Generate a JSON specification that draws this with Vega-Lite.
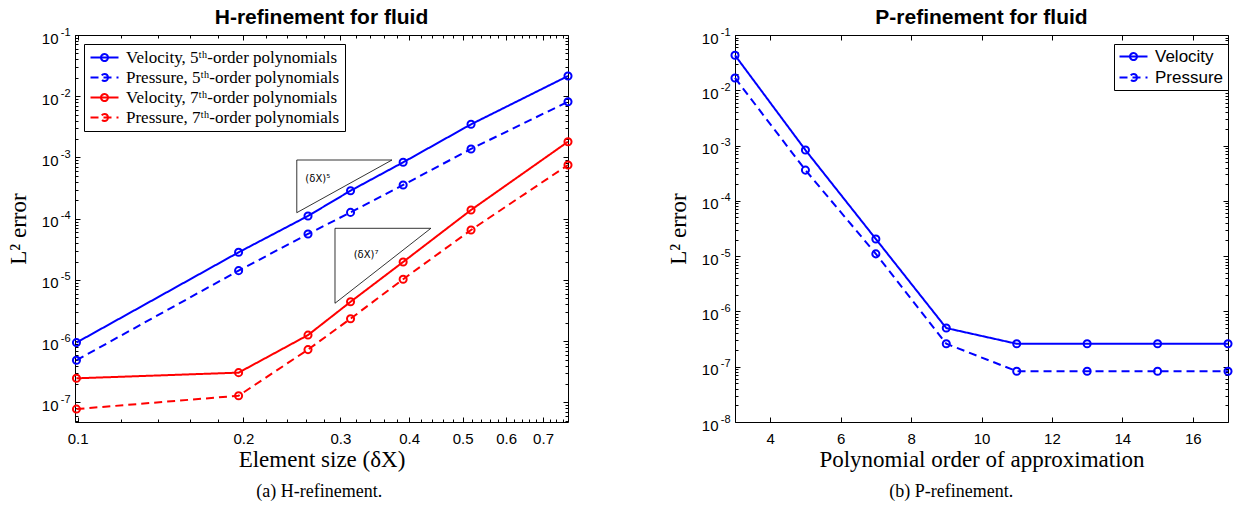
{
  "$schema": "https://vega.github.io/schema/vega-lite/v6.json",
  "padding": {"left": 6, "top": 6, "right": 5, "bottom": 5},
  "config": {
    "view": {"stroke": "black", "strokeWidth": 1},
    "axis": {"domain": false, "grid": false, "tickColor": "black", "tickWidth": 1, "labelColor": "black", "titleColor": "black", "labelFont": "Liberation Sans", "labelFontSize": 15, "labelFlush": false, "labelOverlap": false},
    "legend": {"title": null, "strokeColor": "black", "fillColor": "white", "cornerRadius": 0, "labelColor": "black", "labelLimit": 400, "symbolType": "M-2,0H2M0.5,0A0.5,0.5,0,1,1,-0.5,0A0.5,0.5,0,1,1,0.5,0", "symbolSize": 196, "symbolOffset": 7, "symbolStrokeWidth": 2, "symbolOpacity": 1}
  },
  "datasets": {
    "h": [
      {"size": 0.0995, "err": 9.5e-7, "series": "Velocity, 5ᵗʰ-order polynomials"},
      {"size": 0.196, "err": 2.83e-5, "series": "Velocity, 5ᵗʰ-order polynomials"},
      {"size": 0.262, "err": 1.11e-4, "series": "Velocity, 5ᵗʰ-order polynomials"},
      {"size": 0.313, "err": 2.87e-4, "series": "Velocity, 5ᵗʰ-order polynomials"},
      {"size": 0.39, "err": 8.34e-4, "series": "Velocity, 5ᵗʰ-order polynomials"},
      {"size": 0.518, "err": 3.48e-3, "series": "Velocity, 5ᵗʰ-order polynomials"},
      {"size": 0.777, "err": 2.14e-2, "series": "Velocity, 5ᵗʰ-order polynomials"},
      {"size": 0.0995, "err": 4.9e-7, "series": "Pressure, 5ᵗʰ-order polynomials"},
      {"size": 0.196, "err": 1.42e-5, "series": "Pressure, 5ᵗʰ-order polynomials"},
      {"size": 0.262, "err": 5.64e-5, "series": "Pressure, 5ᵗʰ-order polynomials"},
      {"size": 0.313, "err": 1.27e-4, "series": "Pressure, 5ᵗʰ-order polynomials"},
      {"size": 0.39, "err": 3.56e-4, "series": "Pressure, 5ᵗʰ-order polynomials"},
      {"size": 0.518, "err": 1.38e-3, "series": "Pressure, 5ᵗʰ-order polynomials"},
      {"size": 0.777, "err": 8.15e-3, "series": "Pressure, 5ᵗʰ-order polynomials"},
      {"size": 0.0995, "err": 2.48e-7, "series": "Velocity, 7ᵗʰ-order polynomials"},
      {"size": 0.196, "err": 3.07e-7, "series": "Velocity, 7ᵗʰ-order polynomials"},
      {"size": 0.262, "err": 1.26e-6, "series": "Velocity, 7ᵗʰ-order polynomials"},
      {"size": 0.313, "err": 4.4e-6, "series": "Velocity, 7ᵗʰ-order polynomials"},
      {"size": 0.39, "err": 1.97e-5, "series": "Velocity, 7ᵗʰ-order polynomials"},
      {"size": 0.518, "err": 1.39e-4, "series": "Velocity, 7ᵗʰ-order polynomials"},
      {"size": 0.777, "err": 1.81e-3, "series": "Velocity, 7ᵗʰ-order polynomials"},
      {"size": 0.0995, "err": 7.8e-8, "series": "Pressure, 7ᵗʰ-order polynomials"},
      {"size": 0.196, "err": 1.29e-7, "series": "Pressure, 7ᵗʰ-order polynomials"},
      {"size": 0.262, "err": 7.3e-7, "series": "Pressure, 7ᵗʰ-order polynomials"},
      {"size": 0.313, "err": 2.33e-6, "series": "Pressure, 7ᵗʰ-order polynomials"},
      {"size": 0.39, "err": 1.03e-5, "series": "Pressure, 7ᵗʰ-order polynomials"},
      {"size": 0.518, "err": 6.55e-5, "series": "Pressure, 7ᵗʰ-order polynomials"},
      {"size": 0.777, "err": 7.55e-4, "series": "Pressure, 7ᵗʰ-order polynomials"}
    ],
    "tri": [
      {"tri": "5", "k": 0, "size": 0.25, "err": 9.1e-4},
      {"tri": "5", "k": 1, "size": 0.3722, "err": 9.1e-4},
      {"tri": "5", "k": 2, "size": 0.25, "err": 1.256e-4},
      {"tri": "5", "k": 3, "size": 0.25, "err": 9.1e-4},
      {"tri": "7", "k": 0, "size": 0.2933, "err": 6.98e-5},
      {"tri": "7", "k": 1, "size": 0.438, "err": 6.98e-5},
      {"tri": "7", "k": 2, "size": 0.2933, "err": 4.17e-6},
      {"tri": "7", "k": 3, "size": 0.2933, "err": 6.98e-5}
    ],
    "lbl": [
      {"size": 0.2729, "err": 4.4e-4, "t": "(δX)⁵"},
      {"size": 0.334, "err": 2.56e-5, "t": "(δX)⁷"}
    ],
    "p": [
      {"order": 3, "err": 4.3e-2, "var": "Velocity"},
      {"order": 5, "err": 8.3e-4, "var": "Velocity"},
      {"order": 7, "err": 2.04e-5, "var": "Velocity"},
      {"order": 9, "err": 5.0e-7, "var": "Velocity"},
      {"order": 11, "err": 2.6e-7, "var": "Velocity"},
      {"order": 13, "err": 2.6e-7, "var": "Velocity"},
      {"order": 15, "err": 2.6e-7, "var": "Velocity"},
      {"order": 17, "err": 2.6e-7, "var": "Velocity"},
      {"order": 3, "err": 1.67e-2, "var": "Pressure"},
      {"order": 5, "err": 3.6e-4, "var": "Pressure"},
      {"order": 7, "err": 1.1e-5, "var": "Pressure"},
      {"order": 9, "err": 2.6e-7, "var": "Pressure"},
      {"order": 11, "err": 8.3e-8, "var": "Pressure"},
      {"order": 13, "err": 8.3e-8, "var": "Pressure"},
      {"order": 15, "err": 8.3e-8, "var": "Pressure"},
      {"order": 17, "err": 8.3e-8, "var": "Pressure"}
    ]
  },
  "spacing": 89,
  "hconcat": [
    {
      "title": {"text": "(a) H-refinement.", "orient": "bottom", "font": "Liberation Serif", "fontSize": 18, "fontWeight": "normal", "color": "black", "offset": 11, "anchor": "middle", "dx": 28},
      "resolve": {"scale": {"color": "independent", "strokeDash": "independent"}},
      "vconcat": [
        {
          "width": 493,
          "height": 387,
          "title": {"text": "H-refinement for fluid", "font": "Liberation Sans", "fontSize": 21, "fontWeight": "bold", "color": "black", "offset": -2, "anchor": "middle", "frame": "group"},
          "resolve": {"axis": {"x": "independent", "y": "independent"}},
          "layer": [
            {
              "data": {"name": "h"},
              "transform": [{"filter": "indexof(datum.series, '5ᵗʰ') >= 0"}],
              "mark": {"type": "line", "strokeWidth": 2},
              "encoding": {
                "x": {"field": "size", "type": "quantitative", "scale": {"type": "log", "domain": [0.0989, 0.777], "nice": false},
                  "axis": {"orient": "bottom", "values": [0.1, 0.2, 0.3, 0.4, 0.5, 0.6, 0.7], "format": ".1f", "tickSize": -5, "labelPadding": 14, "title": "Element size (δX)", "titleFont": "Liberation Serif", "titleFontSize": 23, "titleFontWeight": "normal", "titlePadding": 2}},
                "y": {"field": "err", "type": "quantitative", "scale": {"type": "log", "domain": [4.8e-8, 0.1], "nice": false},
                  "axis": {"orient": "left", "values": [5e-8, 6e-8, 7e-8, 8e-8, 9e-8, 1e-7, 2e-7, 3e-7, 4e-7, 5e-7, 6e-7, 7e-7, 8e-7, 9e-7, 1e-6, 2e-6, 3e-6, 4e-6, 5e-6, 6e-6, 7e-6, 8e-6, 9e-6, 1e-5, 2e-5, 3e-5, 4e-5, 5e-5, 6e-5, 7e-5, 8e-5, 9e-5, 1e-4, 2e-4, 3e-4, 4e-4, 5e-4, 6e-4, 7e-4, 8e-4, 9e-4, 1e-3, 2e-3, 3e-3, 4e-3, 5e-3, 6e-3, 7e-3, 8e-3, 9e-3, 1e-2, 2e-2, 3e-2, 4e-2, 5e-2, 6e-2, 7e-2, 8e-2, 9e-2, 1e-1], "labelExpr": "abs(log(datum.value)/LN10 - round(log(datum.value)/LN10)) < 1e-6 ? '10' : ''", "tickSize": -3, "labelPadding": 20, "labelOffset": 3, "title": "L² error", "titleFont": "Liberation Serif", "titleFontSize": 23, "titleFontWeight": "normal", "minExtent": 36, "maxExtent": 36, "titlePadding": 9}},
                "color": {"field": "series", "type": "nominal",
                  "scale": {"domain": ["Velocity, 5ᵗʰ-order polynomials", "Pressure, 5ᵗʰ-order polynomials", "Velocity, 7ᵗʰ-order polynomials", "Pressure, 7ᵗʰ-order polynomials"], "range": ["#0000ff", "#0000ff", "#ff0000", "#ff0000"]},
                  "legend": {"orient": "top-left", "offset": 9, "padding": 5, "labelFont": "Liberation Serif", "labelFontSize": 17, "labelOffset": 13, "rowPadding": 2, "encode": {"symbols": {"update": {"fill": {"value": "transparent"}}}}}},
                "strokeDash": {"field": "series", "type": "nominal",
                  "scale": {"domain": ["Velocity, 5ᵗʰ-order polynomials", "Pressure, 5ᵗʰ-order polynomials", "Velocity, 7ᵗʰ-order polynomials", "Pressure, 7ᵗʰ-order polynomials"], "range": [[1, 0], [8, 5], [1, 0], [8, 5]]},
                  "legend": {"orient": "top-left", "offset": 9, "padding": 5, "labelFont": "Liberation Serif", "labelFontSize": 17, "labelOffset": 13, "rowPadding": 2, "encode": {"symbols": {"update": {"fill": {"value": "transparent"}}}}}}
              }
            },
            {
              "data": {"name": "h"},
              "transform": [{"filter": "indexof(datum.series, '7ᵗʰ') >= 0"}],
              "mark": {"type": "line", "strokeWidth": 2},
              "encoding": {
                "x": {"field": "size", "type": "quantitative", "scale": {"type": "log", "domain": [0.0989, 0.777], "nice": false},
                  "axis": {"orient": "bottom", "values": [0.12, 0.14, 0.16, 0.18, 0.22, 0.24, 0.26, 0.28, 0.32, 0.34, 0.36, 0.38, 0.42, 0.44, 0.46, 0.48, 0.52, 0.54, 0.56, 0.58, 0.62, 0.64, 0.66, 0.68, 0.72, 0.74, 0.76], "labels": false, "tickSize": -3, "title": null, "minExtent": 0, "maxExtent": 0}},
                "y": {"field": "err", "type": "quantitative", "scale": {"type": "log", "domain": [4.8e-8, 0.1], "nice": false},
                  "axis": {"orient": "left", "values": [1e-7, 1e-6, 1e-5, 1e-4, 1e-3, 1e-2, 1e-1], "labelExpr": "'-' + round(-log(datum.value)/LN10)", "labelFontSize": 11, "tickSize": -5, "labelPadding": 10, "labelOffset": -3, "title": null, "minExtent": 0, "maxExtent": 20}},
                "color": {"field": "series", "type": "nominal",
                  "scale": {"domain": ["Velocity, 5ᵗʰ-order polynomials", "Pressure, 5ᵗʰ-order polynomials", "Velocity, 7ᵗʰ-order polynomials", "Pressure, 7ᵗʰ-order polynomials"], "range": ["#0000ff", "#0000ff", "#ff0000", "#ff0000"]},
                  "legend": {"orient": "top-left", "offset": 9, "padding": 5, "labelFont": "Liberation Serif", "labelFontSize": 17, "labelOffset": 13, "rowPadding": 2, "encode": {"symbols": {"update": {"fill": {"value": "transparent"}}}}}},
                "strokeDash": {"field": "series", "type": "nominal",
                  "scale": {"domain": ["Velocity, 5ᵗʰ-order polynomials", "Pressure, 5ᵗʰ-order polynomials", "Velocity, 7ᵗʰ-order polynomials", "Pressure, 7ᵗʰ-order polynomials"], "range": [[1, 0], [8, 5], [1, 0], [8, 5]]},
                  "legend": {"orient": "top-left", "offset": 9, "padding": 5, "labelFont": "Liberation Serif", "labelFontSize": 17, "labelOffset": 13, "rowPadding": 2, "encode": {"symbols": {"update": {"fill": {"value": "transparent"}}}}}}
              }
            },
            {
              "data": {"name": "h"},
              "mark": {"type": "point", "shape": "circle", "filled": false, "size": 50, "strokeWidth": 2, "opacity": 1},
              "encoding": {
                "x": {"field": "size", "type": "quantitative", "scale": {"type": "log", "domain": [0.0989, 0.777], "nice": false},
                  "axis": {"orient": "top", "values": [0.1, 0.2, 0.3, 0.4, 0.5, 0.6, 0.7], "labels": false, "tickSize": -5, "title": null, "minExtent": 0, "maxExtent": 0}},
                "y": {"field": "err", "type": "quantitative", "scale": {"type": "log", "domain": [4.8e-8, 0.1], "nice": false},
                  "axis": {"orient": "right", "values": [5e-8, 6e-8, 7e-8, 8e-8, 9e-8, 2e-7, 3e-7, 4e-7, 5e-7, 6e-7, 7e-7, 8e-7, 9e-7, 2e-6, 3e-6, 4e-6, 5e-6, 6e-6, 7e-6, 8e-6, 9e-6, 2e-5, 3e-5, 4e-5, 5e-5, 6e-5, 7e-5, 8e-5, 9e-5, 2e-4, 3e-4, 4e-4, 5e-4, 6e-4, 7e-4, 8e-4, 9e-4, 2e-3, 3e-3, 4e-3, 5e-3, 6e-3, 7e-3, 8e-3, 9e-3, 2e-2, 3e-2, 4e-2, 5e-2, 6e-2, 7e-2, 8e-2, 9e-2], "labels": false, "tickSize": -3, "title": null, "minExtent": 0, "maxExtent": 0}},
                "color": {"field": "series", "type": "nominal",
                  "scale": {"domain": ["Velocity, 5ᵗʰ-order polynomials", "Pressure, 5ᵗʰ-order polynomials", "Velocity, 7ᵗʰ-order polynomials", "Pressure, 7ᵗʰ-order polynomials"], "range": ["#0000ff", "#0000ff", "#ff0000", "#ff0000"]},
                  "legend": {"orient": "top-left", "offset": 9, "padding": 5, "labelFont": "Liberation Serif", "labelFontSize": 17, "labelOffset": 13, "rowPadding": 2, "encode": {"symbols": {"update": {"fill": {"value": "transparent"}}}}}}
              }
            },
            {
              "data": {"name": "tri"},
              "mark": {"type": "line", "color": "black", "strokeWidth": 0.8},
              "encoding": {
                "x": {"field": "size", "type": "quantitative", "scale": {"type": "log", "domain": [0.0989, 0.777], "nice": false},
                  "axis": {"orient": "top", "values": [0.12, 0.14, 0.16, 0.18, 0.22, 0.24, 0.26, 0.28, 0.32, 0.34, 0.36, 0.38, 0.42, 0.44, 0.46, 0.48, 0.52, 0.54, 0.56, 0.58, 0.62, 0.64, 0.66, 0.68, 0.72, 0.74, 0.76], "labels": false, "tickSize": -3, "title": null, "minExtent": 0, "maxExtent": 0}},
                "y": {"field": "err", "type": "quantitative", "scale": {"type": "log", "domain": [4.8e-8, 0.1], "nice": false},
                  "axis": {"orient": "right", "values": [1e-7, 1e-6, 1e-5, 1e-4, 1e-3, 1e-2, 1e-1], "labels": false, "tickSize": -5, "title": null, "minExtent": 0, "maxExtent": 0}},
                "detail": {"field": "tri", "type": "nominal"},
                "order": {"field": "k", "type": "quantitative"}
              }
            },
            {
              "data": {"name": "lbl"},
              "mark": {"type": "text", "font": "DejaVu Sans", "fontSize": 10, "color": "black"},
              "encoding": {
                "x": {"field": "size", "type": "quantitative", "scale": {"type": "log", "domain": [0.0989, 0.777], "nice": false}, "axis": null},
                "y": {"field": "err", "type": "quantitative", "scale": {"type": "log", "domain": [4.8e-8, 0.1], "nice": false}, "axis": null},
                "text": {"field": "t", "type": "nominal"}
              }
            }
          ]
        }
      ]
    },
    {
      "title": {"text": "(b) P-refinement.", "orient": "bottom", "font": "Liberation Serif", "fontSize": 18, "fontWeight": "normal", "color": "black", "offset": 11, "anchor": "middle"},
      "resolve": {"scale": {"color": "independent", "strokeDash": "independent"}},
      "vconcat": [
        {
          "width": 493,
          "height": 387,
          "title": {"text": "P-refinement for fluid", "font": "Liberation Sans", "fontSize": 21, "fontWeight": "bold", "color": "black", "offset": -2, "anchor": "middle", "frame": "group"},
          "resolve": {"axis": {"x": "independent", "y": "independent"}},
          "layer": [
            {
              "data": {"name": "p"},
              "transform": [{"filter": "datum.var == 'Velocity'"}],
              "mark": {"type": "line", "strokeWidth": 2},
              "encoding": {
                "x": {"field": "order", "type": "quantitative", "scale": {"domain": [3, 17], "nice": false, "zero": false},
                  "axis": {"orient": "bottom", "values": [4, 6, 8, 10, 12, 14, 16], "tickSize": -5, "labelPadding": 14, "title": "Polynomial order of approximation", "titleFont": "Liberation Serif", "titleFontSize": 23, "titleFontWeight": "normal", "titlePadding": 2}},
                "y": {"field": "err", "type": "quantitative", "scale": {"type": "log", "domain": [1e-8, 0.1], "nice": false},
                  "axis": {"orient": "left", "values": [1e-8, 2e-8, 3e-8, 4e-8, 5e-8, 6e-8, 7e-8, 8e-8, 9e-8, 1e-7, 2e-7, 3e-7, 4e-7, 5e-7, 6e-7, 7e-7, 8e-7, 9e-7, 1e-6, 2e-6, 3e-6, 4e-6, 5e-6, 6e-6, 7e-6, 8e-6, 9e-6, 1e-5, 2e-5, 3e-5, 4e-5, 5e-5, 6e-5, 7e-5, 8e-5, 9e-5, 1e-4, 2e-4, 3e-4, 4e-4, 5e-4, 6e-4, 7e-4, 8e-4, 9e-4, 1e-3, 2e-3, 3e-3, 4e-3, 5e-3, 6e-3, 7e-3, 8e-3, 9e-3, 1e-2, 2e-2, 3e-2, 4e-2, 5e-2, 6e-2, 7e-2, 8e-2, 9e-2, 1e-1], "labelExpr": "abs(log(datum.value)/LN10 - round(log(datum.value)/LN10)) < 1e-6 ? '10' : ''", "tickSize": -3, "labelPadding": 20, "labelOffset": 3, "title": "L² error", "titleFont": "Liberation Serif", "titleFontSize": 23, "titleFontWeight": "normal", "minExtent": 36, "maxExtent": 36, "titlePadding": 9}},
                "color": {"field": "var", "type": "nominal", "scale": {"domain": ["Velocity", "Pressure"], "range": ["#0000ff", "#0000ff"]},
                  "legend": {"orient": "none", "legendX": 379, "legendY": 9, "padding": 4, "labelFont": "Liberation Sans", "labelFontSize": 17, "labelOffset": 13, "rowPadding": 3, "encode": {"symbols": {"update": {"fill": {"value": "transparent"}}}}}},
                "strokeDash": {"field": "var", "type": "nominal", "scale": {"domain": ["Velocity", "Pressure"], "range": [[1, 0], [8, 5]]},
                  "legend": {"orient": "none", "legendX": 379, "legendY": 9, "padding": 4, "labelFont": "Liberation Sans", "labelFontSize": 17, "labelOffset": 13, "rowPadding": 3, "encode": {"symbols": {"update": {"fill": {"value": "transparent"}}}}}}
              }
            },
            {
              "data": {"name": "p"},
              "transform": [{"filter": "datum.var == 'Pressure'"}],
              "mark": {"type": "line", "strokeWidth": 2},
              "encoding": {
                "x": {"field": "order", "type": "quantitative", "scale": {"domain": [3, 17], "nice": false, "zero": false},
                  "axis": {"orient": "top", "values": [4, 6, 8, 10, 12, 14, 16], "labels": false, "tickSize": -5, "title": null, "minExtent": 0, "maxExtent": 0}},
                "y": {"field": "err", "type": "quantitative", "scale": {"type": "log", "domain": [1e-8, 0.1], "nice": false},
                  "axis": {"orient": "left", "values": [1e-8, 1e-7, 1e-6, 1e-5, 1e-4, 1e-3, 1e-2, 1e-1], "labelExpr": "'-' + round(-log(datum.value)/LN10)", "labelFontSize": 11, "tickSize": -5, "labelPadding": 10, "labelOffset": -3, "title": null, "minExtent": 0, "maxExtent": 20}},
                "color": {"field": "var", "type": "nominal", "scale": {"domain": ["Velocity", "Pressure"], "range": ["#0000ff", "#0000ff"]},
                  "legend": {"orient": "none", "legendX": 379, "legendY": 9, "padding": 4, "labelFont": "Liberation Sans", "labelFontSize": 17, "labelOffset": 13, "rowPadding": 3, "encode": {"symbols": {"update": {"fill": {"value": "transparent"}}}}}},
                "strokeDash": {"field": "var", "type": "nominal", "scale": {"domain": ["Velocity", "Pressure"], "range": [[1, 0], [8, 5]]},
                  "legend": {"orient": "none", "legendX": 379, "legendY": 9, "padding": 4, "labelFont": "Liberation Sans", "labelFontSize": 17, "labelOffset": 13, "rowPadding": 3, "encode": {"symbols": {"update": {"fill": {"value": "transparent"}}}}}}
              }
            },
            {
              "data": {"name": "p"},
              "transform": [{"filter": "datum.var == 'Velocity'"}],
              "mark": {"type": "point", "shape": "circle", "filled": false, "size": 50, "strokeWidth": 2, "opacity": 1},
              "encoding": {
                "x": {"field": "order", "type": "quantitative", "scale": {"domain": [3, 17], "nice": false, "zero": false}, "axis": null},
                "y": {"field": "err", "type": "quantitative", "scale": {"type": "log", "domain": [1e-8, 0.1], "nice": false},
                  "axis": {"orient": "right", "values": [2e-8, 3e-8, 4e-8, 5e-8, 6e-8, 7e-8, 8e-8, 9e-8, 2e-7, 3e-7, 4e-7, 5e-7, 6e-7, 7e-7, 8e-7, 9e-7, 2e-6, 3e-6, 4e-6, 5e-6, 6e-6, 7e-6, 8e-6, 9e-6, 2e-5, 3e-5, 4e-5, 5e-5, 6e-5, 7e-5, 8e-5, 9e-5, 2e-4, 3e-4, 4e-4, 5e-4, 6e-4, 7e-4, 8e-4, 9e-4, 2e-3, 3e-3, 4e-3, 5e-3, 6e-3, 7e-3, 8e-3, 9e-3, 2e-2, 3e-2, 4e-2, 5e-2, 6e-2, 7e-2, 8e-2, 9e-2], "labels": false, "tickSize": -3, "title": null, "minExtent": 0, "maxExtent": 0}},
                "color": {"field": "var", "type": "nominal", "scale": {"domain": ["Velocity", "Pressure"], "range": ["#0000ff", "#0000ff"]},
                  "legend": {"orient": "none", "legendX": 379, "legendY": 9, "padding": 4, "labelFont": "Liberation Sans", "labelFontSize": 17, "labelOffset": 13, "rowPadding": 3, "encode": {"symbols": {"update": {"fill": {"value": "transparent"}}}}}}
              }
            },
            {
              "data": {"name": "p"},
              "transform": [{"filter": "datum.var == 'Pressure'"}],
              "mark": {"type": "point", "shape": "circle", "filled": false, "size": 50, "strokeWidth": 2, "opacity": 1},
              "encoding": {
                "x": {"field": "order", "type": "quantitative", "scale": {"domain": [3, 17], "nice": false, "zero": false}, "axis": null},
                "y": {"field": "err", "type": "quantitative", "scale": {"type": "log", "domain": [1e-8, 0.1], "nice": false},
                  "axis": {"orient": "right", "values": [1e-8, 1e-7, 1e-6, 1e-5, 1e-4, 1e-3, 1e-2, 1e-1], "labels": false, "tickSize": -5, "title": null, "minExtent": 0, "maxExtent": 0}},
                "color": {"field": "var", "type": "nominal", "scale": {"domain": ["Velocity", "Pressure"], "range": ["#0000ff", "#0000ff"]},
                  "legend": {"orient": "none", "legendX": 379, "legendY": 9, "padding": 4, "labelFont": "Liberation Sans", "labelFontSize": 17, "labelOffset": 13, "rowPadding": 3, "encode": {"symbols": {"update": {"fill": {"value": "transparent"}}}}}}
              }
            }
          ]
        }
      ]
    }
  ]
}
